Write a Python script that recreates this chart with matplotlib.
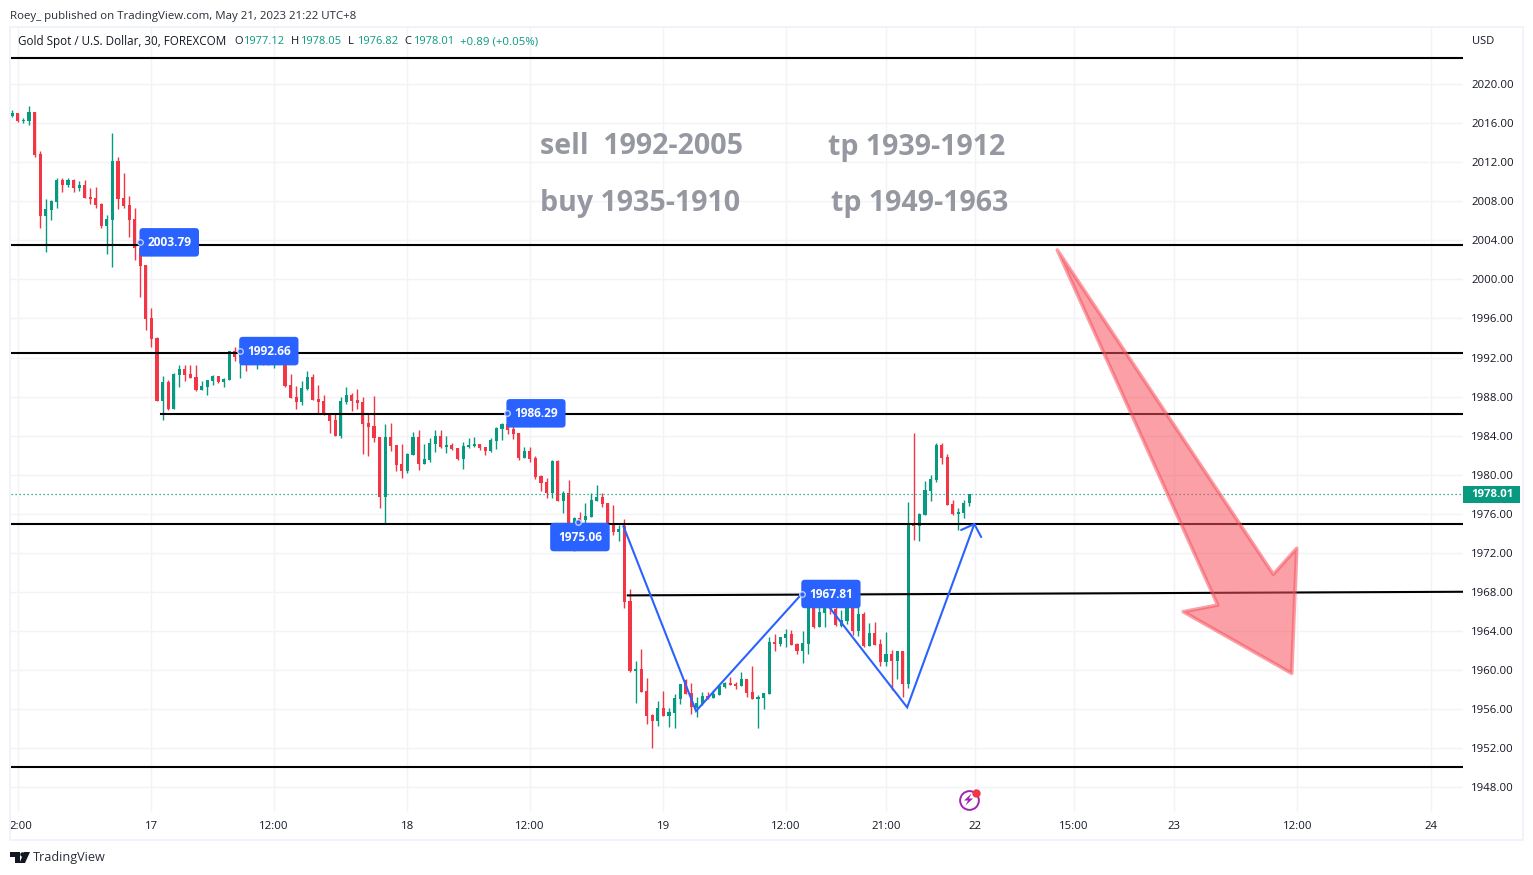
import matplotlib
matplotlib.use("Agg")
import matplotlib.pyplot as plt
from matplotlib.patches import Polygon, Rectangle

W, H = 1533, 875
FONT = ["Open Sans", "DejaVu Sans"]
plt.rcParams["font.family"] = FONT

opens = [2016.73,2017.04,2016.22,2016.22,2017.14,2012.84,2006.49,2007.11,2007.93,2010.18,
2009.67,2010.18,2009.36,2009.67,2008.44,2008.34,2007.72,2005.47,2006.08,2012.12,
2008.34,2007.62,2006.19,2003.22,2001.48,1996.05,1994.0,1987.56,1989.50,1986.74,
1990.22,1990.83,1990.32,1990.01,1988.68,1988.99,1989.60,1990.12,1989.50,1989.71,
1992.67,1992.1,1993.0,1992.0,1991.3,1992.0,1991.24,1991.5,1992.1,1992.0,
1989.19,1987.97,1987.45,1988.78,1990.01,1987.76,1987.56,1986.23,1985.61,1983.97,
1987.45,1988.17,1987.66,1987.45,1985.30,1985.0,1983.87,1977.73,1983.87,1983.05,
1981.11,1980.39,1982.03,1983.87,1981.11,1981.52,1983.16,1983.97,1982.85,1983.05,
1982.75,1981.62,1982.85,1982.95,1983.16,1982.85,1982.44,1983.46,1984.69,1985.20,
1984.69,1984.28,1981.72,1982.44,1981.72,1979.88,1979.27,1978.14,1981.42,1977.32,
1978.14,1975.0,1975.58,1975.38,1975.68,1977.32,1977.73,1977.12,1974.97,1974.15,
1974.76,1967.09,1959.92,1960.12,1957.87,1955.42,1954.80,1956.13,1955.31,1955.62,
1957.05,1959.0,1957.67,1956.13,1956.54,1957.36,1957.16,1957.46,1958.28,1958.69,
1958.59,1958.38,1959.10,1957.77,1957.05,1957.16,1957.57,1962.89,1962.68,1963.30,
1963.71,1962.68,1961.97,1962.68,1967.0,1964.42,1965.86,1966.6,1966.26,1964.52,
1965.04,1966.47,1964.01,1965.75,1962.48,1963.81,1962.68,1960.84,1961.66,1960.94,
1961.97,1958.59,1975.07,1974.76,1975.89,1978.34,1979.47,1983.05,1981.82,1977.01,
1975.99,1976.09,1977.12]
highs = [2017.34,2017.04,2016.52,2017.75,2017.14,2013.11,2008.23,2008.13,2010.38,2010.38,
2010.38,2010.28,2010.08,2010.18,2009.36,2009.46,2007.82,2006.59,2014.99,2012.53,
2010.89,2008.54,2007.31,2003.79,2001.48,1997.08,1994.11,1990.12,1989.71,1990.42,
1991.24,1991.24,1991.24,1991.24,1989.60,1989.71,1990.22,1990.12,1989.91,1992.67,
1993.08,1993.5,1993.4,1992.6,1992.5,1992.6,1992.5,1992.6,1992.6,1992.2,
1990.32,1989.09,1989.60,1990.63,1990.32,1989.19,1988.17,1986.23,1986.23,1987.97,
1988.99,1988.38,1988.78,1987.97,1986.23,1988.07,1983.87,1985.20,1985.30,1983.05,
1983.15,1982.23,1984.38,1984.59,1983.15,1983.77,1984.59,1984.59,1983.97,1983.26,
1982.75,1983.36,1983.77,1983.87,1983.16,1982.85,1983.77,1984.90,1985.30,1986.29,
1985.10,1984.28,1982.85,1982.85,1981.93,1979.98,1979.68,1981.52,1981.52,1978.34,
1979.47,1975.68,1976.20,1977.12,1978.14,1978.96,1978.14,1977.12,1976.91,1974.87,
1975.48,1968.31,1960.94,1962.17,1959.20,1955.52,1956.85,1957.87,1956.13,1957.57,
1958.59,1959.10,1958.69,1957.26,1957.77,1957.77,1957.98,1958.59,1958.79,1959.31,
1958.79,1959.82,1959.10,1960.43,1957.46,1957.67,1963.40,1963.71,1963.40,1964.22,
1964.12,1962.79,1964.01,1967.5,1967.5,1966.57,1967.5,1967.2,1966.5,1966.16,
1967.2,1966.6,1966.47,1965.96,1964.83,1964.93,1963.19,1963.91,1962.07,1961.97,
1961.97,1977.22,1984.28,1976.09,1979.37,1979.98,1983.26,1983.26,1982.13,1977.42,
1976.60,1977.42,1978.05]
lows = [2016.59,2016.11,2016.05,2015.81,2012.57,2005.26,2002.81,2006.08,2007.31,2008.95,
2009.46,2008.95,2009.05,2008.34,2007.72,2007.31,2005.26,2002.60,2001.27,2007.21,
2007.31,2004.34,2001.99,1998.20,1994.82,1993.08,1987.56,1985.61,1986.63,1986.74,
1988.99,1989.60,1989.91,1988.58,1988.68,1988.17,1989.19,1989.40,1988.99,1989.71,
1991.65,1989.94,1990.63,1991.4,1990.83,1991.2,1991.24,1990.97,1991.6,1988.99,
1987.90,1986.74,1987.15,1988.68,1987.66,1986.29,1986.12,1984.28,1983.97,1983.77,
1987.25,1986.53,1986.74,1982.13,1981.93,1983.36,1976.60,1975.03,1982.44,1980.39,
1979.67,1980.19,1982.03,1980.49,1981.11,1981.31,1982.34,1982.75,1982.23,1982.54,
1981.52,1980.60,1982.75,1982.85,1982.54,1982.03,1982.34,1982.64,1983.57,1984.18,
1983.67,1981.52,1981.72,1981.31,1979.57,1978.34,1977.63,1977.63,1977.32,1976.09,
1974.9,1972.2,1975.0,1975.1,1975.68,1977.32,1976.71,1974.97,1973.84,1973.23,
1966.37,1959.82,1956.64,1957.77,1954.49,1952.04,1954.29,1955.31,1954.19,1954.09,
1956.54,1957.57,1955.52,1955.21,1956.44,1957.05,1957.16,1957.46,1958.18,1958.49,
1958.08,1958.38,1957.26,1957.05,1954.09,1956.03,1957.57,1961.97,1962.48,1962.38,
1962.58,1961.66,1960.74,1961.66,1964.32,1964.42,1964.42,1965.8,1964.52,1964.42,
1964.73,1963.60,1963.50,1962.37,1962.48,1962.58,1960.43,1960.43,1957.97,1959.10,
1957.26,1958.18,1973.33,1973.22,1975.89,1977.32,1979.26,1981.11,1976.91,1975.89,
1974.35,1975.58,1976.82]
closes = [2017.07,2016.22,2016.32,2017.14,2012.74,2006.49,2007.17,2008.03,2010.18,2009.67,
2010.18,2009.36,2009.67,2008.34,2008.23,2007.62,2005.47,2006.19,2012.12,2008.23,
2007.52,2006.08,2003.22,2001.37,1995.95,1993.90,1987.56,1989.50,1986.74,1990.32,
1990.83,1990.22,1989.91,1988.68,1989.09,1989.71,1990.12,1989.50,1989.81,1992.67,
1992.06,1992.9,1992.0,1991.6,1992.0,1991.24,1992.0,1992.1,1992.3,1989.09,
1987.90,1987.45,1988.89,1990.01,1987.66,1987.45,1986.23,1985.51,1983.97,1987.56,
1988.17,1987.56,1987.35,1985.20,1984.89,1983.77,1977.73,1983.87,1982.95,1981.0,
1980.39,1982.13,1983.87,1981.11,1981.62,1983.26,1983.97,1982.85,1983.05,1982.64,
1981.62,1982.95,1983.05,1983.16,1982.75,1982.44,1983.57,1984.79,1985.20,1984.59,
1984.18,1981.72,1982.44,1981.62,1979.78,1979.16,1978.14,1981.42,1977.32,1978.14,
1975.1,1975.58,1975.38,1975.79,1977.42,1977.73,1977.01,1974.97,1974.15,1974.46,
1966.98,1959.92,1960.12,1957.77,1955.31,1954.80,1956.13,1955.31,1955.72,1957.16,
1958.59,1957.57,1956.24,1956.64,1957.36,1957.16,1957.57,1958.38,1958.69,1958.49,
1958.38,1959.10,1957.67,1957.05,1957.26,1957.67,1962.89,1962.68,1963.40,1963.71,
1962.58,1961.97,1962.79,1966.84,1964.42,1965.96,1966.6,1966.26,1964.63,1965.14,
1966.47,1964.01,1965.75,1962.48,1963.81,1962.58,1960.84,1961.66,1960.94,1961.97,
1958.59,1975.07,1974.76,1975.99,1978.44,1979.57,1983.05,1981.72,1976.91,1975.99,
1976.19,1977.11,1978.01]

bar_x = list(range(1, len(closes) + 1))

price_ticks = [2020,2016,2012,2008,2004,2000,1996,1992,1988,1984,1980,1976,1972,1968,1964,1960,1956,1952,1948]
time_ticks = [2, 26, 48, 72, 94, 118, 140, 158, 174, 191.8, 209.8, 231.9, 255.9]
time_labels = ["", "17", "12:00", "18", "12:00", "19", "12:00", "21:00", "22", "15:00", "23", "12:00", "24"]

full_levels = [2022.66, 2003.52, 1992.47, 1975.0, 1950.09]
mid_level = 1986.22
mid_level_start = 27.7
slant_x = [111.6, 261.7]
slant_y = [1967.66, 1968.03]

zig_a_x = [110.8, 123.86, 142.85]
zig_a_y = [1974.76, 1955.82, 1967.80]
zig_b_x = [145.96, 161.8, 173.87]
zig_b_y = [1967.80, 1956.2, 1974.96]
head_x = [171.5, 173.87, 175.1]
head_y = [1974.35, 1974.96, 1973.63]

arrow_x = [188.78, 227.6, 231.8, 230.9, 211.4, 217.6]
arrow_y = [2003.01, 1969.82, 1972.48, 1959.68, 1965.99, 1966.67]

label_text = ["2003.79", "1992.66", "1986.29", "1975.06", "1967.81"]
label_cx = [29.2, 47.1, 95.1, 103.0, 148.1]
label_cy = [2003.79, 1992.66, 1986.29, 1973.63, 1967.8]
dot_x = [23.9, 41.9, 89.9, 102.65, 142.9]
dot_y = [2003.79, 1992.66, 1986.29, 1975.17, 1967.8]

GREEN, RED, BLUE = "#089981", "#f23645", "#2962ff"
GRID = "#f2f3f6"
FRAME = "#f0f3fa"
TXT = "#131722"

fig = plt.figure(figsize=(W / 100, H / 100), dpi=100, facecolor="white")
ax = fig.add_axes([10.5 / W, 1 - 812 / H, (1463 - 10.5) / W, (812 - 27) / H])
ax.set_xlim(0.677, 261.68)
ax.set_ylim(1945.49, 2025.83)
for s in ax.spines.values():
    s.set_visible(False)
ax.yaxis.tick_right()
ax.set_yticks(price_ticks)
ax.set_yticklabels([f"{p:.2f}" for p in price_ticks], fontsize=8.2, color=TXT)
ax.set_xticks(time_ticks)
ax.set_xticklabels(time_labels, fontsize=8.2, color=TXT)
ax.tick_params(axis="y", length=0, pad=5.8)
ax.tick_params(axis="x", length=0, pad=6.5)
ax.grid(True, color=GRID, lw=1)
ax.set_axisbelow(True)
ax.annotate("2:00", xy=(time_ticks[0], 0), xycoords=("data", "axes fraction"),
            xytext=(2.5, -10.2), textcoords="offset points", ha="center", va="center",
            fontsize=8.2, color=TXT, annotation_clip=False)

# candles
colors = [GREEN if c >= o else RED for o, c in zip(opens, closes)]
ax.vlines(bar_x, lows, highs, colors=colors, lw=1.0, zorder=3)
ax.bar(bar_x, [max(abs(c - o), 0.12) for o, c in zip(opens, closes)],
       bottom=[min(o, c) for o, c in zip(opens, closes)],
       width=0.56, color=colors, lw=0, zorder=3)

# price line and levels
last = closes[-1]
ax.axhline(last, color=GREEN, lw=0.9, ls=(0, (1, 2.2)), zorder=4)
for lv in full_levels:
    ax.axhline(lv, color="black", lw=1.5, zorder=5)
ax.plot([mid_level_start, ax.get_xlim()[1]], [mid_level, mid_level], color="black", lw=1.5, zorder=5)
ax.plot(slant_x, slant_y, color="black", lw=1.5, zorder=5)

# zigzag
for xs, ys in ((zig_a_x, zig_a_y), (zig_b_x, zig_b_y), (head_x, head_y)):
    ax.plot(xs, ys, color=BLUE, lw=1.5, zorder=6, solid_capstyle="round", solid_joinstyle="miter")

# red arrow
ax.add_patch(Polygon(list(zip(arrow_x, arrow_y)), closed=True, facecolor=(0.97, 0.32, 0.37, 0.55),
                     edgecolor=(0.97, 0.32, 0.37, 0.55), lw=2.6, joinstyle="round", zorder=7))

# blue labels
for t, cx, cy in zip(label_text, label_cx, label_cy):
    ax.text(cx, cy, t, color="white", fontsize=8.6, fontweight="bold", ha="center", va="center", zorder=9,
            bbox=dict(boxstyle="round,pad=0.65,rounding_size=0.3", fc=BLUE, ec="none"))
ax.scatter(dot_x, dot_y, s=16, facecolor=BLUE, edgecolor="#c9d6ff", lw=0.9, zorder=10, clip_on=False)

# last price tag
ytr = ax.get_yaxis_transform()
ax.add_patch(Rectangle((1.0, last - 0.87), 57 / 1452.5, 1.74, transform=ytr, fc=GREEN, ec="none",
                       clip_on=False, zorder=8))
ax.text(1 + 29 / 1452.5, last, f"{last:.2f}", transform=ytr, color="white", fontsize=8.2, fontweight="bold",
        ha="center", va="center", zorder=9, clip_on=False)

# text notes
def fx(x): return x / W
def fy(y): return 1 - y / H

for t, x, y in (("sell  1992-2005", 540, 147), ("tp 1939-1912", 828, 147),
                ("buy 1935-1910", 540, 203), ("tp 1949-1963", 831, 203)):
    fig.text(fx(x), fy(y), t, color="#9598a1", fontsize=20.6, fontweight="bold", ha="left", va="center", zorder=20)

# header
fig.text(fx(10), fy(16), "Roey_ published on TradingView.com, May 21, 2023 21:22 UTC+8", fontsize=8.26,
         color="#2a2e39", va="center")
fig.text(fx(18), fy(42), "Gold Spot / U.S. Dollar, 30, FOREXCOM", fontsize=8.4, color=TXT, va="center")
for k, v, x in (("O", "1977.12", 234), ("H", "1978.05", 291), ("L", "1976.82", 348), ("C", "1978.01", 404)):
    fig.text(fx(x), fy(42), k, fontsize=8.0, color=TXT, va="center")
    fig.text(fx(x + 9), fy(42), v, fontsize=8.0, color=GREEN, va="center")
fig.text(fx(460), fy(42), "+0.89 (+0.05%)", fontsize=8.2, color=GREEN, va="center")
fig.text(fx(1483), fy(41), "USD", fontsize=8.0, color=TXT, ha="center", va="center")

# frame
for xywh in ((9, 27, 2, 814), (9, 26, 1515, 2), (1522, 26, 2, 815), (9, 839, 1515, 2)):
    x, y, w, h = xywh
    fig.add_artist(Rectangle((fx(x), fy(y + h)), w / W, h / H, transform=fig.transFigure, fc=FRAME, ec="none"))

# storm icon
def pts(seq): return [(fx(a), fy(b)) for a, b in seq]
fig.add_artist(plt.Line2D([fx(968.5)], [fy(799.5)], marker="o", ms=13.5, mfc="white", mec="#9c27b0", mew=1.4,
                          transform=fig.transFigure, zorder=30))
fig.add_artist(Polygon(pts([(971.5, 793.5), (964, 800.5), (968, 800.5), (965.5, 805.5), (973, 798.5), (969, 798.5)]),
                       closed=True, fc="#9c27b0", ec="none", transform=fig.transFigure, zorder=31))
fig.add_artist(plt.Line2D([fx(976.3)], [fy(792.5)], marker="o", ms=5, mfc=RED, mec=RED,
                          transform=fig.transFigure, zorder=32))

# logo
for poly in ([(10, 852), (20, 852), (20, 863), (15, 863), (15, 856.5), (10, 856.5)],
             [(24, 852), (30, 852), (25, 863), (19.5, 863)]):
    fig.add_artist(Polygon(pts(poly), closed=True, fc="#131722", ec="none", transform=fig.transFigure))
fig.add_artist(plt.Line2D([fx(22)], [fy(854)], marker="o", ms=3.2, mfc="#131722", mec="none",
                          transform=fig.transFigure))
fig.text(fx(33), fy(858), "TradingView", fontsize=9.1, color="#2a2e39", va="center")

fig.savefig("out.png", dpi=100)
